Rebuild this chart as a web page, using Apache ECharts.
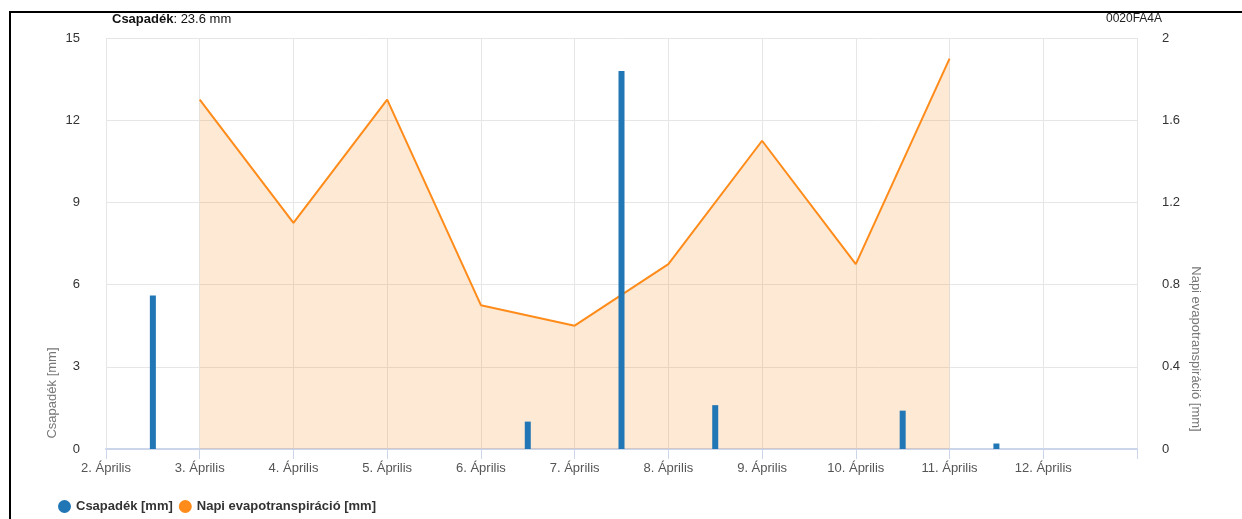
<!DOCTYPE html>
<html>
<head>
<meta charset="utf-8">
<script src="https://cdn.jsdelivr.net/npm/echarts@6/dist/echarts.min.js"></script>
<style>
html,body{margin:0;padding:0;background:#fff;}
#chart{width:1242px;height:519px;}
</style>
</head>
<body>
<div id="chart"></div>
<script>
// Data
const dayTicks = [2, 3, 4, 5, 6, 7, 8, 9, 10, 11, 12];
const monthName = 'Április';
const rainDays = [2.5, 6.5, 7.5, 8.5, 10.5, 11.5];
const rainValues = [5.6, 1.0, 13.8, 1.6, 1.4, 0.2];
const etDays = [3, 4, 5, 6, 7, 8, 9, 10, 11];
const etValues = [1.7, 1.1, 1.7, 0.7, 0.6, 0.9, 1.5, 0.9, 1.9];
const rainTotal = '23.6 mm';
const stationId = '0020FA4A';
const rainName = 'Csapadék [mm]';
const etName = 'Napi evapotranspiráció [mm]';

const FONT = '"Liberation Sans Narrow", "Liberation Sans", Arial, sans-serif';

const chart = echarts.init(document.getElementById('chart'), null, {renderer: 'canvas'});

const option = {
  animation: false,
  backgroundColor: '#fff',
  textStyle: {fontFamily: FONT},
  title: {
    left: 112, top: 13, padding: 0, z: 20,
    text: '{b|Csapadék}: ' + rainTotal,
    textStyle: {
      fontFamily: FONT, fontSize: 13, fontWeight: 'normal', color: '#111',
      rich: {b: {fontFamily: FONT, fontSize: 13, fontWeight: 'bold', color: '#111'}}
    }
  },
  legend: {
    left: 58, top: 500, padding: 0,
    icon: 'circle', itemWidth: 13, itemHeight: 13, itemGap: 6,
    textStyle: {fontFamily: FONT, fontSize: 13, fontWeight: 'bold', color: '#333'},
    data: [rainName, etName]
  },
  grid: {left: 106, right: 105, top: 38, bottom: 70, containLabel: false},
  xAxis: {
    type: 'value', min: 2, max: 13, interval: 1,
    axisLine: {show: true, lineStyle: {color: '#ccd6eb', width: 2}},
    axisTick: {show: true, length: 10, lineStyle: {color: '#ccd6eb'}},
    splitLine: {show: true, lineStyle: {color: '#e6e6e6'}},
    axisLabel: {
      fontFamily: FONT, fontSize: 13, color: '#555', margin: 13,
      formatter: v => dayTicks.indexOf(v) >= 0 ? v + '. ' + monthName : ''
    }
  },
  yAxis: [
    {
      type: 'value', min: 0, max: 15, interval: 3,
      axisLine: {show: false}, axisTick: {show: false},
      splitLine: {lineStyle: {color: '#e6e6e6'}},
      axisLabel: {fontFamily: FONT, fontSize: 13, color: '#333', margin: 26}
    },
    {
      type: 'value', min: 0, max: 2, interval: 0.4,
      axisLine: {show: false}, axisTick: {show: false},
      splitLine: {show: false},
      axisLabel: {fontFamily: FONT, fontSize: 13, color: '#333', margin: 25}
    }
  ],
  series: [
    {
      name: rainName, type: 'bar', yAxisIndex: 0,
      barWidth: 6,
      itemStyle: {color: '#2176b5'},
      data: rainDays.map((d, i) => [d, rainValues[i]]),
      z: 3
    },
    {
      name: etName, type: 'line', yAxisIndex: 1,
      showSymbol: false, symbol: 'circle',
      itemStyle: {color: '#ff8c1a'},
      lineStyle: {color: '#ff8c1a', width: 2},
      areaStyle: {color: 'rgba(251,140,30,0.27)'},
      data: etDays.map((d, i) => [d, etValues[i]]),
      z: 2
    }
  ],
  graphic: [
    {type: 'line', z: 1, shape: {x1: 9, y1: 12, x2: 1242, y2: 12}, style: {stroke: '#000', lineWidth: 2}},
    {type: 'line', z: 1, shape: {x1: 10, y1: 12, x2: 10, y2: 519}, style: {stroke: '#000', lineWidth: 2}},
    {type: 'text', right: 80, top: 13, style: {text: stationId, font: '12px ' + FONT, fill: '#222'}},
    {type: 'text', x: 52, y: 393, rotation: Math.PI / 2,
      style: {text: rainName, font: '13px ' + FONT, fill: '#777', align: 'center', verticalAlign: 'middle'}},
    {type: 'text', x: 1196, y: 349, rotation: -Math.PI / 2,
      style: {text: etName, font: '13px ' + FONT, fill: '#777', align: 'center', verticalAlign: 'middle'}}
  ]
};
chart.setOption(option);
</script>
</body>
</html>
